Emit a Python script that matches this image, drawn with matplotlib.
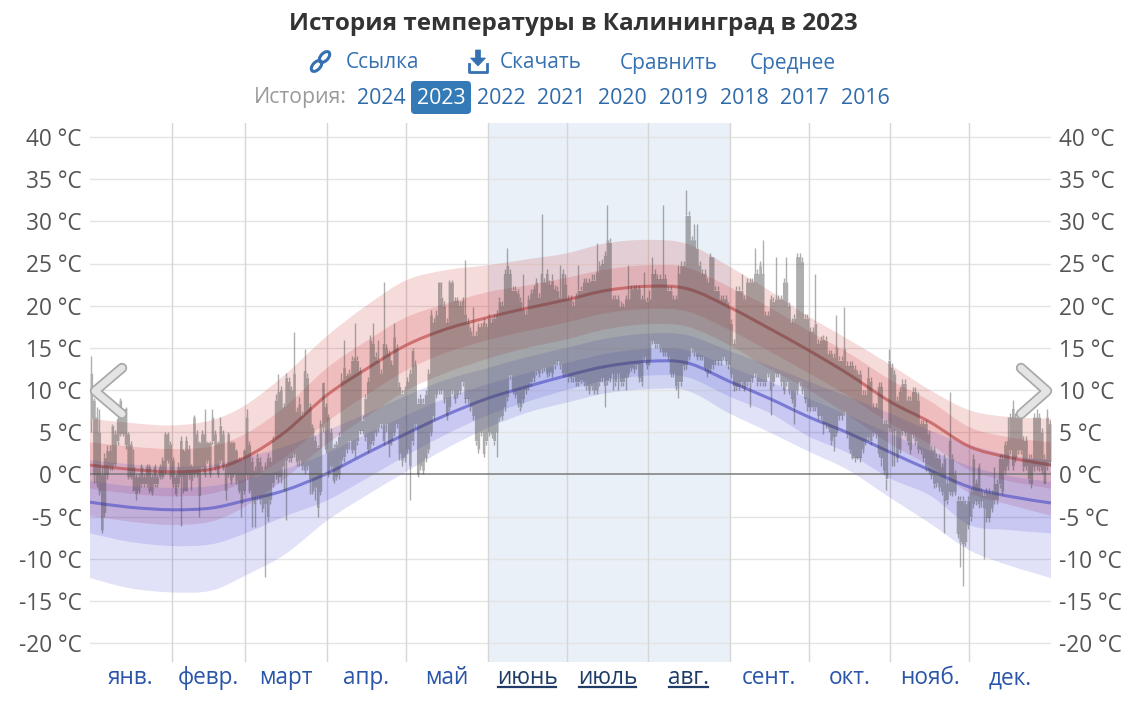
import numpy as np
import matplotlib
matplotlib.use("Agg")
import matplotlib.pyplot as plt
from matplotlib.patches import FancyBboxPatch, Ellipse, Polygon, PathPatch
from matplotlib.path import Path
from matplotlib.lines import Line2D
import matplotlib.patheffects as pe
from matplotlib.transforms import IdentityTransform

plt.rcParams['font.family'] = ['Open Sans', 'DejaVu Sans']

# ---------------- data ----------------
title = "История температуры в Калининград в 2023"
months = ["янв.", "февр.", "март", "апр.", "май", "июнь", "июль", "авг.",
          "сент.", "окт.", "нояб.", "дек."]
month_start = [0, 31, 59, 90, 120, 151, 181, 212, 243, 273, 304, 334, 365]
summer_months = ["июнь", "июль", "авг."]
years = ["2024", "2023", "2022", "2021", "2020", "2019", "2018", "2017", "2016"]
links = ["Ссылка", "Скачать", "Сравнить", "Среднее"]
yticks = [-20, -15, -10, -5, 0, 5, 10, 15, 20, 25, 30, 35, 40]

# climatology (day of year)
clim_day = [0, 15, 31, 46, 59, 74, 90, 105, 120, 135, 151, 166, 181, 196, 212, 227,
            243, 258, 273, 288, 304, 319, 334, 349, 365]
hi_med = [1.1, 0.6, 0.3, 0.6, 2.0, 5.0, 9.4, 12.5, 15.3, 17.2, 18.6, 19.7, 20.7, 21.8,
          22.3, 22.0, 19.8, 17.3, 14.7, 11.9, 8.6, 6.2, 3.3, 2.0, 1.1]
hi_p90 = [6.6, 6.1, 5.8, 6.4, 8.2, 11.8, 16.4, 20.0, 23.0, 24.2, 24.8, 25.5, 26.2, 27.4,
          27.8, 27.3, 24.6, 21.8, 18.7, 16.0, 13.0, 10.0, 7.6, 6.8, 6.6]
hi_p75 = [3.8, 3.3, 3.0, 3.3, 4.8, 8.0, 12.6, 15.8, 18.6, 20.2, 21.6, 22.4, 23.3, 24.3,
          24.8, 24.5, 22.2, 19.8, 17.0, 14.4, 11.2, 8.7, 5.6, 4.4, 3.8]
hi_p25 = [-1.7, -2.3, -2.6, -2.3, -0.8, 2.0, 6.2, 9.4, 12.3, 14.4, 15.9, 17.0, 18.0, 19.1,
          19.6, 19.3, 17.1, 14.6, 12.0, 9.3, 6.0, 3.6, 0.5, -0.8, -1.7]
hi_p10 = [-4.9, -5.6, -6.0, -5.6, -3.8, -0.5, 3.6, 6.8, 9.9, 12.0, 13.7, 15.0, 16.0, 17.2,
          17.8, 17.5, 15.3, 12.5, 10.0, 7.0, 3.6, 1.0, -2.2, -3.6, -4.9]
lo_med = [-3.3, -3.9, -4.2, -4.0, -3.1, -1.9, 0.1, 2.5, 4.8, 7.0, 9.0, 10.4, 11.7, 12.8,
          13.4, 13.2, 11.0, 9.0, 6.8, 4.9, 2.6, 0.5, -1.5, -2.6, -3.4]
lo_p90 = [1.7, 1.2, 0.9, 1.1, 2.0, 3.3, 5.2, 7.2, 9.3, 11.2, 12.6, 13.9, 15.0, 16.1,
          16.7, 16.5, 14.6, 12.9, 11.0, 9.2, 7.2, 5.2, 3.5, 2.3, 1.6]
lo_p75 = [-0.8, -1.4, -1.6, -1.4, -0.6, 0.6, 2.5, 4.8, 7.0, 9.0, 10.7, 12.0, 13.2, 14.3,
          14.9, 14.7, 12.7, 11.0, 9.0, 7.0, 4.8, 2.8, 1.0, -0.2, -0.9]
lo_p25 = [-7.0, -8.0, -8.5, -8.3, -7.0, -5.0, -3.1, -0.5, 2.2, 4.7, 7.0, 8.6, 10.0, 11.1,
          11.7, 11.5, 9.2, 7.3, 4.5, 2.5, -0.5, -2.5, -6.0, -6.6, -7.0]
lo_p10 = [-12.3, -13.5, -14.0, -13.8, -12.0, -9.5, -5.5, -2.5, 0.3, 3.0, 5.5, 7.3, 8.5, 9.6,
          10.1, 9.9, 7.2, 5.0, 2.7, 0.5, -2.8, -5.8, -9.0, -10.8, -12.3]

# daily observed ranges 2023 (thick bar top / bottom, thin line top / bottom), °C
bar_hi = [
    12, 8.8, 6.8, 5, 0, 2, 2.8, 2.8, 5.8, 4.8, 6.6, 8.8, 6.6, 7.8, 4.8, 3.6, 0.9, -0.3, -0.3, 0.9,
    -0.3, 0.9, 0.9, -0.3, 0.9, -0.3, 0.9, 1.7, 4.8, 4.8, 3.6,
    1.7, -0.3, 0.9, 4.0, 2.8, 4.0, 3, 1, 6.8, 4.8, 3.8, 4.8, 4.8, 3.8, 3.8, 6.8, 4.8, 3.8, 5.8, 4.8,
    0.9, 4.8, 3.8, 3.8, 2.8, 1.7, 1.7, 2.8,
    6.8, 3.5, 1.5, 0.5, 2, 1.5, 0.5, 1, 2, 1.5, 4, 8.8, 9.8, 10, 8, 11.5, 11, 10, 12, 7.5,
    8.4, 7, 12.3, 11.5, 8.0, 5.6, 4, 3.2, 6, 10.9, 8,
    6.8, 5, 3.2, 3.6, 4.5, 11.2, 12.7, 11.7, 12, 13.5, 13.9, 13.5, 12.3, 6.4, 9, 11, 15.9, 15.5, 14, 13.5,
    12, 15.5, 15, 14.3, 13, 16.3, 15, 10.4, 9.6, 10,
    11, 12, 14.7, 13, 8.4, 9, 8.4, 9.5, 12, 18.9, 18, 18.9, 22.8, 21, 19.9, 18, 22.8, 22.8, 20.6, 20.6,
    20, 20.6, 19, 18, 17, 16.5, 16.5, 17.5, 17.5, 18, 17.5,
    18.5, 18, 18.5, 19, 20.5, 20, 23.8, 24.8, 23.8, 21.8, 21.8, 21.5, 20.5, 19.5, 19, 20.8, 21.5, 22.0, 22.8, 21,
    23.8, 22.8, 23.8, 22.5, 23, 22, 21.8, 21, 23.8, 22.5,
    20.8, 20.8, 20, 21, 21.8, 21.8, 22.8, 22.8, 22.8, 23, 23, 24, 24.8, 25, 26, 27.8, 27.5, 20.8, 20.8, 20.8,
    19.9, 19.9, 20.8, 20.8, 22, 22, 22, 22, 20.8, 20.8, 20.5,
    20.8, 23.8, 23.8, 23.2, 23.2, 23.2, 23.2, 21.8, 21.8, 20.8, 20.8, 23.8, 24.8, 24.8, 30.7, 30.7, 27.8, 27.8, 26.8, 24.8,
    23.8, 23.8, 22.8, 25.8, 25.8, 21.8, 21.8, 20.8, 20.8, 20.8, 19.9,
    17.9, 15.5, 21.8, 21.8, 21.8, 20.8, 22.8, 22.8, 22.8, 23.8, 23.8, 24.8, 23.8, 18.9, 18.9, 20.8, 20.5, 20.8, 20.8, 20.8,
    22.8, 22.8, 19.9, 18.0, 18.5, 25.8, 25.8, 25.2, 18.5, 18.5,
    17, 17, 17.9, 15.5, 15.9, 16.0, 15.9, 14.3, 14.3, 13.9, 15, 13.5, 13.5, 14.9, 12.9, 12.9, 12.9, 12.5, 11.9, 11.9,
    9.5, 9.5, 11.5, 11, 8, 8, 10.4, 10.4, 6, 6, 13.5,
    12.7, 11.9, 8.8, 9.8, 10.8, 10.8, 8.8, 8.8, 9.8, 9.8, 8.8, 6, 6, 6, 4.8, 3, 2.9, 2, 1.9, 0.9,
    1.9, -1.1, 4, 1.9, 0, -3.1, -3.1, -3.1, -3.5, -3.1,
    -2.1, 1.9, -1.1, 0.9, -2.1, -2.5, -2.1, -2.1, -2.3, -1.1, -1.1, 1.9, 1.9, 3.5, 4, 6.8, 7.8, 6.8, 6.8, 6.8,
    4, 4, 1.9, 1.9, 6.8, 6.8, 6.8, 5, 1.9, 6.8, 6,
]
bar_lo = [
    6.6, 0, -1, -2, -6.6, -4.5, 0, 1, 1, 1.3, 4, 4.8, 4.8, 3.5, -0.3, -0.3, -1.9, -2.3, -1.9, -1.1,
    -1.1, -1.1, -1.9, -2.1, -1.1, -1.1, -0.3, -0.3, 0.5, 1.7, -0.3,
    -1.1, -2.3, -1.1, -0.3, -1.9, -1.9, 0, -0.7, 0.1, 0.1, -2.5, 0.9, 0.1, 1.7, 0.1, 4.0, 0.9, 0.1, 1.7, 0.9,
    -1.9, 0.1, -0.7, 0.1, -0.7, -1.9, -3.5, -1.9,
    0, -1.9, -2.8, -3.5, -2.5, -3, -4, -3.5, -5, -3, -1, 0, -0.3, -0.3, 1, 1.7, 2, 2, 2.5, 1.5,
    1.7, 1, 0.5, 1, -0.5, -2, -1.5, -3.9, -2, 5.6, 3,
    0.1, 1, -0.7, -0.3, 0, 1.7, 2.1, 3, 4, 2.9, 2.9, 4.0, 5.2, 5.2, 4.5, 3, 3.6, 4, 5, 5.6,
    6, 4, 6, 3.6, 4, 5, 6, 2.5, 1.7, 2,
    3, 1, 4, 6, 0.1, 1, 0.5, 2, 3, 5, 7, 9.5, 10, 10, 9, 7, 8, 10, 9, 9.5,
    10, 11, 9, 9, 8, 7, 4, 3, 5, 2.5, 4,
    5, 4.8, 4, 5, 6.8, 7, 8, 9.2, 11.8, 10, 9.5, 8.5, 8, 9, 10, 10.4, 11, 11.5, 12.3, 12,
    12.5, 12.7, 12, 12.2, 12, 13, 13.5, 13, 12, 12,
    11.6, 11.5, 11.6, 11, 11, 11.2, 11, 10.5, 10, 10.5, 10, 10, 11, 11.5, 10.5, 11.1, 11.5, 12, 11, 12,
    11, 11, 11.5, 12, 12.7, 12.5, 13, 11.5, 11, 14, 13,
    13.5, 15.9, 15.5, 15.5, 15, 14.5, 14.5, 14, 12, 12, 10.5, 11, 11, 12.9, 13, 14, 15, 14.5, 14, 14,
    14, 12.7, 12, 12.5, 13, 13.5, 13.5, 13.5, 14, 13.5, 13,
    11.9, 10.5, 10.4, 10.4, 11, 10.2, 11, 11, 11.5, 12, 11, 11, 11, 11, 12, 10, 11, 12, 12, 11,
    10, 11, 10, 9, 8, 10, 11, 10, 9, 8,
    8, 8, 8, 7, 7, 6, 6, 5.5, 4, 4.5, 5, 7, 7, 7.5, 4.8, 3, 2, 2, 2, 2,
    3, 4, 4.5, 4, 5, 4.8, 2.5, 2, 0.5, -0.5, 5.5,
    5, 5.2, 2, 3, 5.2, 5, 4, 2.9, 4.8, 4, 3, 2.9, 2, 0.9, 0.5, -0.1, -1.1, -1, -1.5, -2,
    -3.1, -3, -2, -2.1, -2, -7, -8, -8.2, -8, -6,
    -5, -3.5, -3.1, -3.5, -3.1, -4, -5.1, -5.1, -4, -3, -3, -1.1, -2, 0.5, 1, 2.9, 1, 2, 2.9, 2.9,
    0.9, 1, -0.5, -1.1, 0.9, 1, 0.9, 0.5, -1.1, 1, 1.5,
]
wh_hi = [
    14, 9, 8, 7.8, 1, 2.5, 3.5, 3.5, 6, 5.2, 7, 9, 7, 8, 5, 4, 3, 0, 0, 1.2,
    0, 1.2, 1.2, 0, 1.2, 0, 1.2, 2, 5, 5, 4,
    2, 0, 1.5, 4.5, 3, 4.5, 3.5, 1.2, 7, 5.2, 4, 5.2, 7.8, 4, 4, 7.8, 5.2, 4, 6.8, 5.2,
    1.2, 5, 4, 4, 3, 2, 2, 3,
    7.8, 4, 2, 1, 2.5, 2, 1, 1.5, 2.5, 2, 4.5, 9.5, 11.9, 10.5, 8.5, 12, 11.5, 10.5, 16.9, 8,
    9.2, 7.5, 14.9, 12, 8.5, 6, 4.5, 3.5, 6.5, 10.9, 8.5,
    7.2, 5.5, 3.6, 4, 5, 12, 15.9, 12, 12.5, 14, 17.9, 14, 12.7, 7, 9.5, 11.5, 16.5, 17.9, 14.5, 15.9,
    12.5, 22.8, 15.5, 14.7, 13.5, 17.9, 15.5, 11, 10, 10.5,
    11.5, 12.5, 15, 13.5, 9, 9.5, 9, 10, 12.5, 19.5, 18.5, 19.5, 22.8, 22.8, 20.5, 18.5, 23, 23, 21, 21,
    20.5, 21, 25.4, 18.5, 17.5, 19.9, 17, 18, 18, 18.5, 18,
    19, 18.5, 19, 19.5, 21, 20.5, 24.3, 26.8, 24.3, 22.3, 22.3, 22, 21, 23.8, 19.5, 21.3, 22, 22.5, 23.3, 21.5,
    30.9, 23.3, 24.3, 23, 23.8, 22.5, 22.3, 24.8, 24.3, 23.8,
    21.3, 21.3, 20.5, 21.5, 24.8, 22.3, 23.3, 23.3, 23.3, 23.8, 23.8, 27.4, 25.3, 25.5, 26.5, 31.9, 28, 21.3, 21.3, 21.3,
    20.5, 20.3, 21.3, 24.8, 22.5, 22.5, 22.5, 22.5, 21.3, 24, 21,
    21.8, 25.8, 24.3, 23.7, 23.7, 31.9, 23.7, 22.3, 22.3, 21.3, 21.3, 24.8, 25.3, 25.3, 33.7, 31.2, 28.3, 29.7, 29.7, 25.3,
    24.3, 24.3, 23.3, 26.3, 25.8, 22.3, 22.3, 21.3, 21.3, 21.3, 20.4,
    18.4, 16, 22.3, 22.3, 23.8, 21.3, 23.3, 23.3, 23.3, 26.8, 24.3, 25.3, 27.8, 19.4, 19.4, 21.3, 21, 25.8, 21.3, 21.3,
    23.3, 25.8, 20.4, 18.5, 19, 26.3, 26.3, 25.8, 19, 19,
    17.5, 17.5, 23.8, 16, 16.4, 16.5, 16.4, 14.8, 14.8, 14.4, 18.9, 14, 14, 19.9, 13.4, 13.4, 13.4, 13, 12.4, 12.4,
    10, 10, 12.7, 11.5, 8.5, 8.5, 11, 11, 6.5, 6.5, 14.9,
    13.2, 12.4, 9.3, 10.3, 11.3, 11.3, 9.3, 9.3, 10.3, 10.3, 9.8, 6.5, 6.5, 6.5, 5.3, 3.5, 3.4, 2.5, 2.4, 1.4,
    2.4, -0.6, 9.8, 2.4, 0.5, -2.6, -2.6, -2.6, -3, -2.6,
    -1.6, 2.4, -0.6, 1.4, -1.6, -2, -1.6, -1.6, -1.8, 0.9, -0.6, 2.4, 2.4, 4, 6.8, 7.3, 8.8, 7.3, 7.3, 7.3,
    4.5, 4.5, 2.4, 2.4, 7.3, 7.8, 7.3, 5.5, 2.4, 7.8, 6.5,
]
wh_lo = [
    5, -1, -1.5, -2.5, -7, -5, -0.5, 0.5, 0.5, 1, 3.5, 4.5, 4.5, 3, -0.5, -0.5, -2, -3.1, -2.2, -1.5,
    -1.5, -1.5, -2.2, -2.5, -1.5, -1.5, -0.6, -0.6, 0, 1.3, -0.6,
    -1.5, -2.6, -1.5, -6.1, -2.2, -2, -0.5, -1.9, -0.3, -0.3, -5.1, 0.5, -0.3, 1.4, -0.3, 3.6, 0.5, -0.3, 1.4, 0.5,
    -3.1, -0.3, -1.1, -0.3, -1.1, -2.2, -5.1, -2.3,
    -0.5, -2.2, -6.2, -6.2, -3, -3.5, -4.5, -12.2, -5.5, -3.5, -1.5, -0.5, -1, -1, -2, -5.4, 1.5, 1.5, 2, 1,
    1, 0.5, 0, 0.5, -2.3, -2.3, -3, -5.1, -2.5, 5, 2.5,
    -0.3, 0.5, -1, -0.7, -0.5, 1, 1.5, 2.5, 3, 2.5, 2.1, 3.5, 4.8, 4.8, 4, 2.5, 3, 3.5, 4.5, 5,
    5.5, 3.5, 5, 2.1, 3.5, 4.5, 5.5, 1.7, 1, 1.5,
    2.5, -3.1, 3.5, 5.5, -0.3, 0.5, 0, 1.5, 2.5, 4.5, 6.5, 9, 9.5, 9.5, 8.5, 6.5, 7.5, 9.5, 8.5, 9,
    9.5, 10.5, 8.5, 8.5, 7.5, 6.5, 3.5, 2.5, 4.5, 2, 3.5,
    4.5, 4.3, 3.5, 2.1, 6.3, 6.5, 7.5, 8.7, 11.3, 9.5, 9, 8, 7.5, 8.5, 9.5, 10, 10.5, 11, 11.8, 11.5,
    12, 12.2, 11.5, 11.7, 11.5, 12.5, 13, 12.5, 11.5, 11.5,
    11, 11, 11, 10.5, 10.5, 10.8, 10.5, 10, 9.5, 10, 9.5, 9.5, 10.5, 11, 8.0, 10.6, 11, 10, 10.5, 10,
    10.5, 10.5, 10, 11.5, 12.2, 12, 12.5, 11, 10.5, 13.5, 12.5,
    13, 15.4, 15, 15, 14.5, 14, 14, 13.5, 11.5, 11.5, 10, 9, 10.5, 12.4, 12.5, 13.5, 14.5, 14, 13.5, 13.5,
    13.5, 12.2, 11.5, 12, 12.5, 13, 13, 13, 13.5, 13, 12.5,
    11.4, 9.9, 10, 10, 10.4, 9.9, 10.5, 8.0, 11, 11.5, 10.5, 10.5, 10.5, 10.5, 11.5, 7.0, 10.5, 11.5, 11.5, 10.5,
    9.5, 10.5, 9.5, 8.5, 6.0, 9.5, 10.5, 9.5, 8.5, 7.5,
    7.5, 7.5, 7.5, 6.5, 6.5, 4.8, 5.5, 5, 3.5, 2.8, 4.5, 6.5, 6.5, 7.0, 4.3, 2.5, 1.8, 1.5, 1.8, 1.5,
    2.5, 3.5, 4, 3.5, 4.5, 4.3, 2, 1.0, 0, -1.9, 5,
    1, 1, 1.5, 2.5, 4.7, 4.5, 3.5, 2.4, 4.3, 3.5, 2.5, 2.4, 1.5, 0.4, 0, -0.6, -1.6, -1.5, -2, -2.5,
    -7.0, -3.5, -2.5, -2.6, -2.5, -7.5, -11, -13.2, -8.5, -6.5,
    -5.5, -4, -3.6, -4, -3.9, -10, -5.6, -5.6, -4.5, -3.5, -3.5, -1.6, -2.5, 0, 0.5, 2.4, 0.5, 1.5, 2.4, 2.4,
    0.4, 0.5, -1, -1.6, 0.4, 0.5, 0.4, 0, -1.1, 0.5, 1,
]
for _n, _a in [("bar_hi", bar_hi), ("bar_lo", bar_lo), ("wh_hi", wh_hi), ("wh_lo", wh_lo)]:
    assert len(_a) == 365, (_n, len(_a))


# smooth (spline-style) rendering of a polyline through the given points
def spline_segments(x, y):
    P = np.column_stack([x, y]).astype(float)
    n = len(P)
    verts, codes = [], []
    for i in range(n - 1):
        p0 = P[i - 1] if i > 0 else P[i]
        p1, p2 = P[i], P[i + 1]
        p3 = P[i + 2] if i + 2 < n else P[i + 1]
        verts += [p1 + (p2 - p0) / 6.0, p2 - (p3 - p1) / 6.0, p2]
        codes += [Path.CURVE4] * 3
    return verts, codes


def smooth_band(ax, x, lo, hi, **kw):
    v1, c1 = spline_segments(x, hi)
    v2, c2 = spline_segments(x[::-1], lo[::-1])
    verts = [(x[0], hi[0])] + v1 + [(x[-1], lo[-1])] + v2 + [(x[0], hi[0])]
    codes = [Path.MOVETO] + c1 + [Path.LINETO] + c2 + [Path.CLOSEPOLY]
    ax.add_patch(PathPatch(Path(verts, codes), **kw))


def smooth_line(ax, x, y, **kw):
    v, c = spline_segments(x, y)
    ax.add_patch(PathPatch(Path([(x[0], y[0])] + v, [Path.MOVETO] + c), fill=False, **kw))


# ---------------- figure ----------------
W, H = 1146, 702
fig = plt.figure(figsize=(W / 100, H / 100), dpi=100)
fig.patch.set_facecolor("white")
PL, PR, PT, PB = 90, 1051, 123, 662
ax = fig.add_axes([PL / W, 1 - PB / H, (PR - PL) / W, (PB - PT) / H])
pxdeg = (643 - 137) / 60.0
ax.set_xlim(0, 365)
ax.set_ylim(-20 - (PB - 643) / pxdeg, 40 + (137 - PT) / pxdeg)
for s in ax.spines.values():
    s.set_visible(False)
ax.set_facecolor("white")

# summer shading
ax.axvspan(month_start[5], month_start[8], color="#e9f0f8", lw=0, zorder=0)
# grid
for v in yticks:
    if v == 0:
        ax.axhline(v, color="#7a7a7a", lw=1.1, zorder=3.6)
    else:
        ax.axhline(v, color="#e4e4e4", lw=1.0, zorder=1)
for m in month_start[1:-1]:
    ax.axvline(m, color="#d6d6d6", lw=1.0, zorder=1)

# climatology bands
red = (0.82, 0.22, 0.22)
blue = (0.30, 0.30, 0.85)
cd = np.array(clim_day, float)
smooth_band(ax, cd, np.array(hi_p10), np.array(hi_p90), fc=red, alpha=0.18, lw=0, zorder=2)
smooth_band(ax, cd, np.array(hi_p25), np.array(hi_p75), fc=red, alpha=0.18, lw=0, zorder=2)
smooth_band(ax, cd, np.array(lo_p10), np.array(lo_p90), fc=blue, alpha=0.17, lw=0, zorder=2)
smooth_band(ax, cd, np.array(lo_p25), np.array(lo_p75), fc=blue, alpha=0.17, lw=0, zorder=2)
smooth_line(ax, cd, np.array(hi_med), ec="#c05050", lw=2.2, alpha=0.7, zorder=3)
smooth_line(ax, cd, np.array(lo_med), ec="#5a5ac8", lw=2.2, alpha=0.7, zorder=3)

# daily observations: thick day bars as one stepped band, thin lines beyond
bhi = np.array(bar_hi, float)
blo = np.array(bar_lo, float)
whi = np.array(wh_hi, float)
wlo = np.array(wh_lo, float)
edges = np.arange(366)
gray = "#404040"
ax.fill_between(edges, np.append(blo, blo[-1]), np.append(bhi, bhi[-1]), step="post",
                color=gray, alpha=0.42, lw=0, zorder=4)
days = np.arange(365) + 0.5
up = whi > bhi
dn = wlo < blo
ax.vlines(days[up], bhi[up], whi[up], color=gray, alpha=0.42, lw=1.0, zorder=4)
ax.vlines(days[dn], wlo[dn], blo[dn], color=gray, alpha=0.42, lw=1.0, zorder=4)

# axes ticks
ax.set_yticks(yticks)
ax.set_yticklabels([f"{v} °C" for v in yticks])
ax.tick_params(axis="y", length=0, labelleft=True, labelright=True, pad=6,
               labelsize=16.3, labelcolor="#555555")
mids = [(month_start[i] + month_start[i + 1]) / 2 for i in range(12)]
ax.set_xticks(mids)
ax.set_xticklabels(months)
ax.tick_params(axis="x", length=0, pad=3, labelsize=16.3)
for lab in ax.get_xticklabels():
    lab.set_color("#1f3c66" if lab.get_text() in summer_months else "#2a55a8")

# ---------------- overlay (header, chevrons) ----------------
ov = fig.add_axes([0, 0, 1, 1], zorder=10)
ov.set_xlim(0, W)
ov.set_ylim(H, 0)
ov.axis("off")

ov.text(573, 24, title, ha="center", va="center", fontsize=17.5, fontweight="bold", color="#333333")

lnk = "#3571b1"
# link icon
for cx, cy in [(316.5, 66.0), (324.5, 57.0)]:
    ov.add_patch(Ellipse((cx, cy), 13, 7.5, angle=-47, fill=False, ec=lnk, lw=2.2))
# download icon
ov.add_patch(Polygon([(475.5, 50), (480.5, 50), (480.5, 58), (485.5, 58), (478, 66),
                      (470.5, 58), (475.5, 58)], closed=True, fc=lnk, ec=lnk, lw=0.5))
ov.add_line(Line2D([469, 469, 487, 487], [64, 71.5, 71.5, 64], color=lnk, lw=2.0))
link_x = [346, 500, 620, 750]
for t, x in zip(links, link_x):
    ov.text(x, 63, t, ha="left", va="center", fontsize=15, color=lnk)

ov.text(254, 98, "История:", ha="left", va="center", fontsize=15.3, color="#9a9a9a")
year_cx = [381, 441, 501, 561, 622, 683, 744, 804, 865]
for y, x in zip(years, year_cx):
    if y == "2023":
        ov.add_patch(FancyBboxPatch((411, 81), 60, 33, boxstyle="round,pad=0,rounding_size=4",
                                    fc="#337ab7", ec="none"))
        ov.text(x, 98, y, ha="center", va="center", fontsize=15.3, color="white")
    else:
        ov.text(x, 98, y, ha="center", va="center", fontsize=15.3, color="#2f6aa8")

# navigation chevrons
chev = dict(color="#e4e4e4", lw=5.0, solid_capstyle="round", solid_joinstyle="round",
            path_effects=[pe.Stroke(linewidth=7.5, foreground="#a8a8a8"), pe.Normal()])
ov.add_line(Line2D([122, 95, 122], [368, 391, 414], **chev))
ov.add_line(Line2D([1021, 1047, 1021], [368, 391, 414], **chev))

# underline summer month labels
fig.canvas.draw()
r = fig.canvas.get_renderer()
for lab in ax.get_xticklabels():
    if lab.get_text() in summer_months:
        bb = lab.get_window_extent(r)
        fig.add_artist(Line2D([bb.x0 + 1, bb.x1 - 1], [bb.y0 + 3, bb.y0 + 3], transform=IdentityTransform(),
                              color="#1f3c66", lw=1.6))

fig.savefig("out.png", dpi=100, facecolor="white")
